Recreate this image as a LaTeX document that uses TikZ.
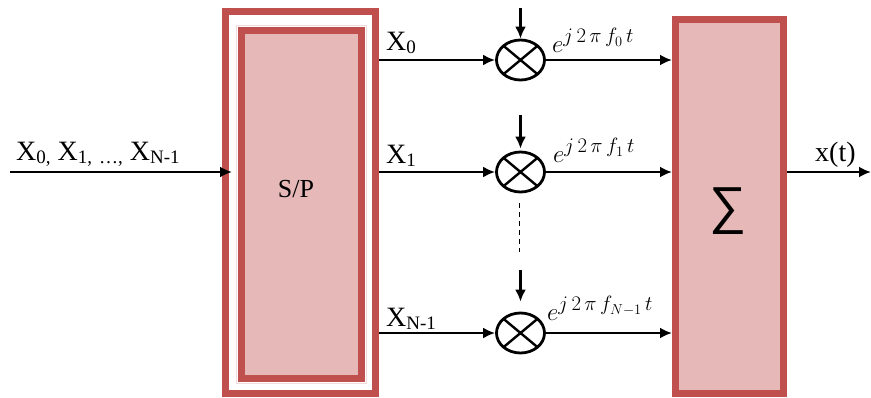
\documentclass[tikz,border=0pt]{standalone}
\usepackage{fontspec}
\setmainfont{Liberation Serif}
\newfontfamily\opfont{Liberation Sans}
\usetikzlibrary{arrows.meta,shapes.geometric}
\definecolor{bandred}{HTML}{C0504D}
\definecolor{boxfill}{HTML}{E6B9B8}
\definecolor{glow}{HTML}{F2DCDB}
% lowered, smaller index text in the serif labels
\newcommand\lowsub[1]{\raisebox{-0.14em}{\fontsize{19}{19}\selectfont #1}}
\begin{document}
\begin{tikzpicture}[x=1pt,y=-1pt,
  band/.style={draw=bandred, line width=7pt, inner sep=0pt},
  wire/.style={line width=2.4pt, -{Latex[length=12pt,width=11pt]}},
  mixer/.style={ellipse, draw, line width=2.8pt, minimum width=48pt,
    minimum height=40pt, inner sep=0pt,
    path picture={\draw[line width=2.4pt]
      (path picture bounding box.north west) -- (path picture bounding box.south east)
      (path picture bounding box.south west) -- (path picture bounding box.north east);}},
  lbl/.style={font=\fontsize{28}{32}\selectfont, anchor=base west, inner sep=0pt},
  expo/.style={font=\fontsize{30}{34}\selectfont, anchor=base west, inner sep=0pt},
]
\useasboundingbox (0,0) rectangle (871,397);

% serial-to-parallel block: double frame
\node[band, fill=white, minimum width=150pt, minimum height=382pt] (sp) at (300.5,202.5) {};
\node[draw=glow, line width=1.5pt, minimum width=130pt, minimum height=358pt, inner sep=0pt] (spglow) at (301.5,204.5) {};
\node[band, fill=boxfill, minimum width=120pt, minimum height=348pt] (spin) at (301.5,204.5) {};
\node[font=\fontsize{26}{30}\selectfont, inner sep=0pt] (splabel) at (296,189) {S/P};

% summation block with a soft shadow
\node[fill=black!18, minimum width=108pt, minimum height=374pt, inner sep=0pt] (sumshadow) at (732,206.5) {};
\node[band, fill=boxfill, minimum width=108pt, minimum height=374pt] (sum) at (729.5,206.5) {};
\node[font=\opfont\fontsize{52}{56}\selectfont, inner sep=0pt] (sigma) at (728,211) {∑};

% mixers
\node[mixer] (m0) at (520.5,60) {};
\node[mixer] (m1) at (520.5,172) {};
\node[mixer] (m2) at (520.5,333) {};

% free ends
\coordinate (in) at (10,172);
\coordinate (out) at (871,172);
\coordinate (lo0) at (520.5,8);
\coordinate (lo1) at (520.5,115);
\coordinate (lo2) at (520.5,270);
\coordinate (dotA) at (519.5,203);
\coordinate (dotB) at (519.5,252);

% input and output
\draw[wire, shorten >=-10pt] (in) -- (sp.west |- in);
\draw[wire] (sum.east |- out) -- (out);

% parallel branches
\foreach \m in {m0,m1,m2}{
  \draw[wire] (sp.east |- \m) -- (\m.west);
  \draw[wire] (\m.east) -- (sum.west |- \m);
}
\draw[wire] (lo0) -- (m0.north);
\draw[wire, shorten >=2pt] (lo1) -- (m1.north);
\draw[wire, shorten >=10pt] (lo2) -- (m2.north);
\draw[line width=1.6pt, dash pattern=on 5pt off 4pt] (dotA) -- (dotB);

% labels
\node[lbl] (inlabel) at (16,160) {X\lowsub{0,} X\lowsub{1,} \lowsub{\dots,} X\lowsub{N-1}};
\node[lbl] (x0) at (386,50) {X\lowsub{0}};
\node[lbl] (x1) at (386,163) {X\lowsub{1}};
\node[lbl] (x2) at (386,326) {X\lowsub{N-1}};
\node[lbl] (xt) at (815,161) {x(t)};
\node[expo] (e0) at (552,52) {$e^{j\,2\,\pi\, f_{0}\, t}$};
\node[expo] (e1) at (553,162) {$e^{j\,2\,\pi\, f_{1}\, t}$};
\node[expo] (e2) at (547,320) {$e^{j\,2\,\pi\, f_{N-1}\, t}$};
\end{tikzpicture}
\end{document}
